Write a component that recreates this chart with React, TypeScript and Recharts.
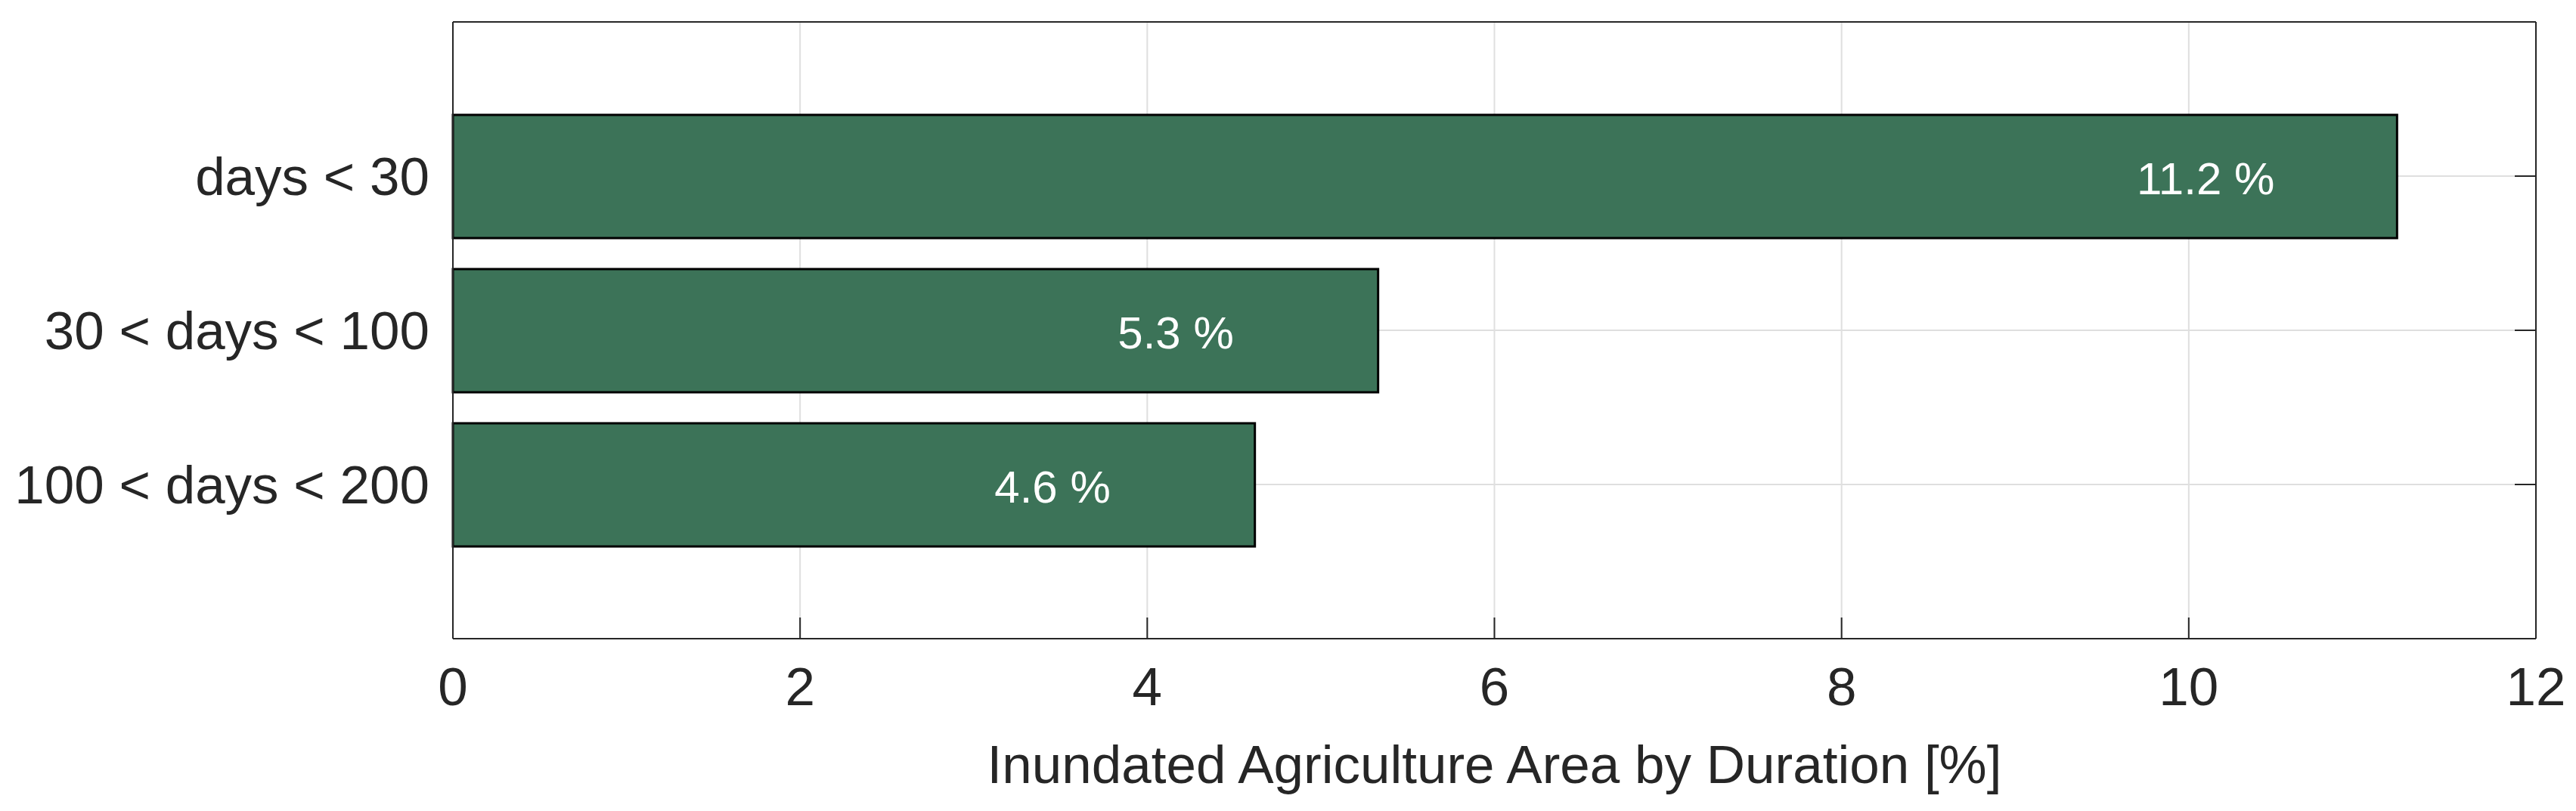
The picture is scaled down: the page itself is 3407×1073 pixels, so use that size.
import React from 'react'
import { Bar, BarChart, CartesianGrid, LabelList, XAxis, YAxis } from 'recharts'

const categories = ['days < 30', '30 < days < 100', '100 < days < 200']
const shares = [11.2, 5.33, 4.62]
const xTicks = [0, 2, 4, 6, 8, 10, 12]

const data = categories.map((label, i) => ({ label, value: shares[i] }))

const FONT = '"Liberation Sans", Arial, Helvetica, sans-serif'
const INK = '#262626'
const TICK_LEN = 28

const BottomTick = ({ x, y, payload }: any) => (
  <g>
    <line x1={x} y1={y} x2={x} y2={y - TICK_LEN} stroke={INK} strokeWidth={2} />
    <text x={x} y={y + 88} textAnchor="middle" fontSize={71} fill={INK} fontFamily={FONT}>
      {payload.value}
    </text>
  </g>
)

const TopTick = ({ x, y }: any) => (
  <line x1={x} y1={y} x2={x} y2={y + TICK_LEN} stroke={INK} strokeWidth={2} />
)

const LeftTick = ({ x, y, payload }: any) => (
  <text x={x - 31} y={y + 25} textAnchor="end" fontSize={71} fill={INK} fontFamily={FONT}>
    {payload.value}
  </text>
)

const RightTick = ({ x, y }: any) => (
  <line x1={x} y1={y} x2={x - TICK_LEN} y2={y} stroke={INK} strokeWidth={2} />
)

// value text starts 1.5 units left of the bar end
const BarText = ({ x, y, width, height, value }: any) => {
  const perUnit = width / value
  return (
    <text
      x={x + width - 1.5 * perUnit}
      y={y + height / 2 + 23}
      textAnchor="start"
      fontSize={60}
      fill="#ffffff"
      fontFamily={FONT}
    >
      {`${Number(value).toFixed(1)} %`}
    </text>
  )
}

export default function App() {
  const axisLine = { stroke: INK, strokeWidth: 2 }
  return (
    <div style={{ position: 'absolute', left: 0, top: 0, background: '#fff' }}>
      <BarChart
        layout="vertical"
        width={3407}
        height={1073}
        data={data}
        margin={{ top: 28, right: 52, bottom: 0, left: 0 }}
        barSize={163}
      >
        <CartesianGrid stroke="#dfdfdf" strokeWidth={2} />
        <XAxis
          type="number"
          domain={[0, 12]}
          ticks={xTicks}
          height={228}
          tickSize={0}
          tickMargin={0}
          tickLine={false}
          axisLine={axisLine}
          tick={<BottomTick />}
          label={{
            value: 'Inundated Agriculture Area by Duration [%]',
            position: 'insideBottom',
            offset: 37,
            style: { fontSize: 71, fill: INK, fontFamily: FONT },
          }}
        />
        <XAxis
          xAxisId="top"
          orientation="top"
          type="number"
          domain={[0, 12]}
          ticks={xTicks}
          height={1}
          tickSize={0}
          tickMargin={0}
          tickLine={false}
          axisLine={axisLine}
          tick={<TopTick />}
        />
        <YAxis
          type="category"
          dataKey="label"
          width={599}
          padding={{ top: 102, bottom: 102 }}
          tickSize={0}
          tickMargin={0}
          tickLine={false}
          axisLine={axisLine}
          tick={<LeftTick />}
        />
        <YAxis
          yAxisId="right"
          orientation="right"
          type="category"
          dataKey="label"
          width={1}
          padding={{ top: 102, bottom: 102 }}
          tickSize={0}
          tickMargin={0}
          tickLine={false}
          axisLine={axisLine}
          tick={<RightTick />}
        />
        <Bar dataKey="value" fill="#3c7358" stroke="#000000" strokeWidth={3} isAnimationActive={false}>
          <LabelList dataKey="value" content={<BarText />} />
        </Bar>
      </BarChart>
    </div>
  )
}
